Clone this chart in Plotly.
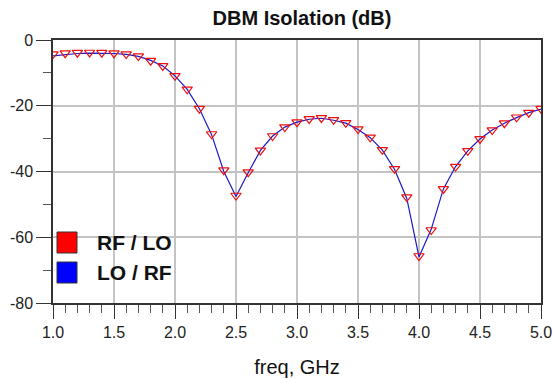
import plotly.graph_objects as go

freq = [round(1.0 + 0.1 * i, 1) for i in range(41)]
rf_lo = [-4.3, -4.0, -3.85, -3.8, -3.85, -4.0, -4.3, -4.9, -6.3, -7.9,
         -10.9, -15.0, -20.9, -28.6, -39.6, -47.3, -40.2, -33.6, -29.2, -26.5,
         -25.0, -24.0, -23.7, -24.3, -25.2, -27.1, -29.6, -33.4, -39.2, -47.8,
         -65.7, -57.8, -45.3, -38.5, -33.7, -30.1, -27.4, -25.3, -23.5, -22.1, -20.9]
lo_rf = [-4.8, -4.4, -4.1, -4.0, -4.0, -4.1, -4.4, -5.0, -6.2, -7.9,
         -10.9, -15.0, -20.9, -28.8, -40.0, -47.6, -40.4, -33.6, -29.2, -26.5,
         -25.0, -24.1, -23.8, -24.4, -25.3, -27.2, -29.7, -33.5, -39.4, -48.2,
         -66.0, -57.6, -45.3, -38.5, -33.7, -30.1, -27.4, -25.3, -23.6, -22.1, -21.0]
series_names = ["RF / LO", "LO / RF"]
series_colors = ["#ff0000", "#0000ff"]
x_ticks = [1.0, 1.5, 2.0, 2.5, 3.0, 3.5, 4.0, 4.5, 5.0]
y_ticks = [0, -20, -40, -60, -80]

FONT = "Arial, Liberation Sans, sans-serif"

fig = go.Figure()
fig.add_trace(go.Scatter(x=freq, y=lo_rf, mode="lines", name=series_names[1],
                         line=dict(color="#1a1acc", width=1.2), showlegend=False))
fig.add_trace(go.Scatter(x=freq, y=rf_lo, mode="markers", name=series_names[0],
                         marker=dict(symbol="triangle-down-open", size=9,
                                     color="#ee1111", line=dict(width=1.2)),
                         showlegend=False))

# legend drawn as squares + text (paper coords)
for i, (nm, col) in enumerate(zip(series_names, series_colors)):
    fig.add_shape(type="rect", xref="paper", yref="paper",
                  x0=(57 - 53) / 488, x1=(77 - 53) / 488,
                  y0=(303 - 253 - i * 30) / 263, y1=(303 - 232 - i * 30) / 263,
                  fillcolor=col, line=dict(color="#333333", width=1))
    fig.add_annotation(xref="paper", yref="paper", x=(95 - 53) / 488,
                       y=(303 - 242.5 - i * 30) / 263, text="<b>" + nm + "</b>", showarrow=False,
                       xanchor="left", yanchor="middle",
                       font=dict(family=FONT, size=21, color="#111111"))

fig.update_layout(
    width=554, height=379,
    margin=dict(l=53, r=13, t=40, b=76),
    paper_bgcolor="white", plot_bgcolor="white",
    title=dict(text="<b>DBM Isolation (dB)</b>", x=302 / 554, xanchor="center",
               y=1 - 18 / 379, yanchor="middle",
               font=dict(family=FONT, size=20, color="#111111")),
    font=dict(family=FONT, color="#222222"),
)
fig.update_xaxes(range=[1.0, 5.0], tickvals=x_ticks, ticktext=[f"{v:.1f}" for v in x_ticks],
                 showgrid=True, gridcolor="#c4c4c4", gridwidth=1.5,
                 showline=True, linecolor="#333333", linewidth=1.5, mirror=True,
                 ticks="outside", ticklen=14, tickcolor="#333333",
                 minor=dict(dtick=0.1, ticks="outside", ticklen=8, tickcolor="#555555", showgrid=False),
                 tickfont=dict(size=16), zeroline=False, automargin=False,
                 title=dict(text="freq, GHz", font=dict(size=20, color="#111111"), standoff=20))
fig.update_yaxes(range=[-80, 0], tickvals=y_ticks, ticktext=[str(v) for v in y_ticks],
                 showgrid=True, gridcolor="#c4c4c4", gridwidth=1.5,
                 showline=True, linecolor="#333333", linewidth=1.5, mirror=True,
                 ticks="outside", ticklen=15, tickcolor="#333333",
                 minor=dict(dtick=10, ticks="outside", ticklen=8, tickcolor="#555555", showgrid=False),
                 tickfont=dict(size=16), zeroline=False, automargin=False)

fig.write_html("out.html")
